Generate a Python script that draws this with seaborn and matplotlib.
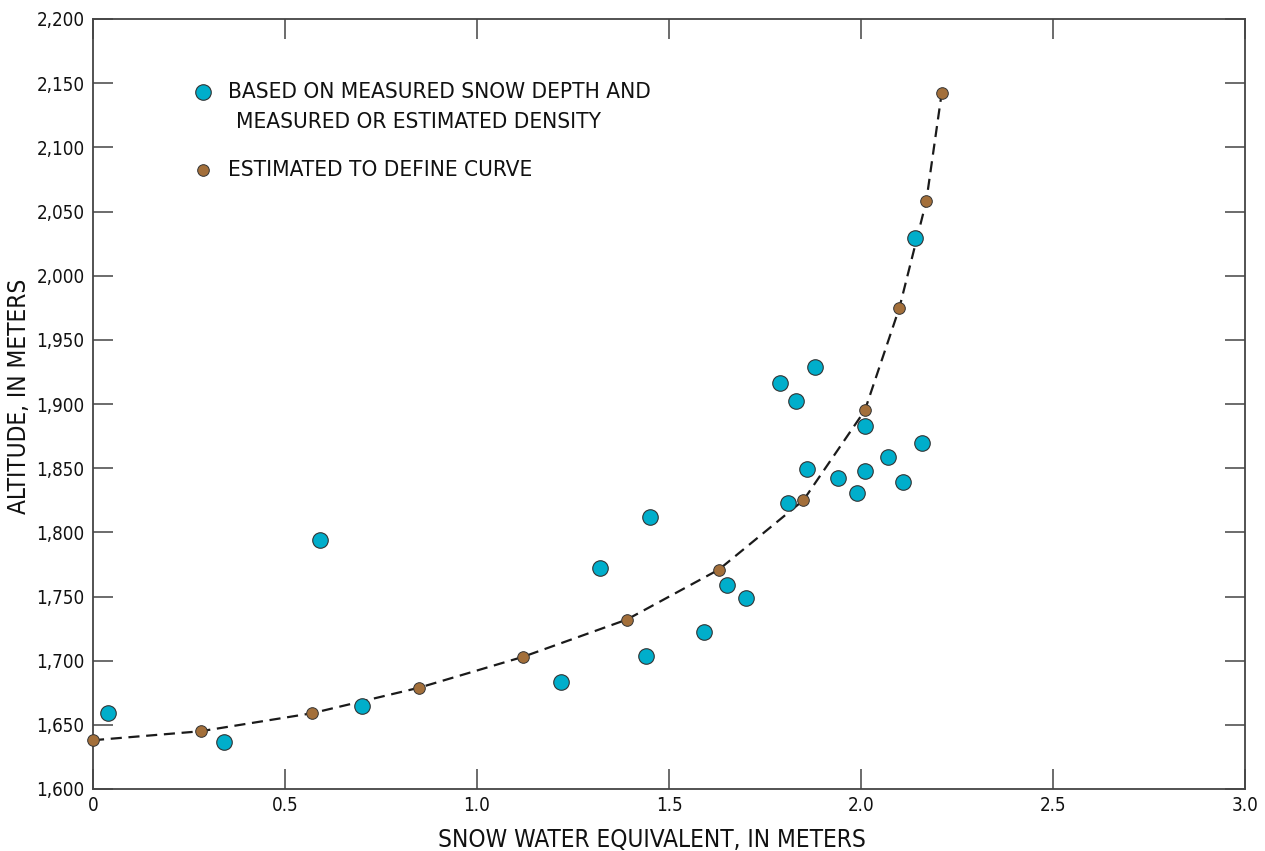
import matplotlib
matplotlib.use("Agg")
import matplotlib.pyplot as plt
import matplotlib.ticker as mticker
from matplotlib import font_manager as fm
import seaborn as sns
import pandas as pd

# ---- data ----
measured_swe = [0.04, 0.34, 0.59, 0.70, 1.22, 1.32, 1.44, 1.45, 1.59, 1.65, 1.70,
                1.79, 1.83, 1.88, 1.81, 1.86, 1.94, 1.99, 2.01, 2.01, 2.07, 2.11, 2.14, 2.16]
measured_alt = [1659, 1637, 1794, 1665, 1683, 1772, 1704, 1812, 1722, 1759, 1749,
                1916, 1902, 1929, 1823, 1849, 1842, 1831, 1883, 1848, 1859, 1839, 2029, 1870]

curve_swe = [0.0, 0.28, 0.57, 0.85, 1.12, 1.39, 1.63, 1.85, 2.01, 2.10, 2.17, 2.21]
curve_alt = [1638, 1645, 1659, 1679, 1703, 1732, 1771, 1825, 1895, 1975, 2058, 2142]

x_ticks = [0, 0.5, 1.0, 1.5, 2.0, 2.5, 3.0]
x_tick_labels = ["0", "0.5", "1.0", "1.5", "2.0", "2.5", "3.0"]
y_ticks = list(range(1600, 2201, 50))

label_measured_1 = "BASED ON MEASURED SNOW DEPTH AND"
label_measured_2 = "MEASURED OR ESTIMATED DENSITY"
label_curve = "ESTIMATED TO DEFINE CURVE"
x_label = "SNOW WATER EQUIVALENT, IN METERS"
y_label = "ALTITUDE, IN METERS"

BLUE = "#00AECB"
BROWN = "#A36F3A"
EDGE = "#333333"
AXC = "#444444"
TXT = "#111111"

sns.set_theme(style="ticks")
names = {f.name for f in fm.fontManager.ttflist}
if "Liberation Sans Narrow" in names:
    FONT = "Liberation Sans Narrow"
    STRETCH = "normal"
else:
    FONT = "DejaVu Sans"
    STRETCH = "condensed"
plt.rcParams["font.family"] = [FONT, "DejaVu Sans"]
plt.rcParams["font.stretch"] = STRETCH

df_m = pd.DataFrame({"swe": measured_swe, "alt": measured_alt})
df_c = pd.DataFrame({"swe": curve_swe, "alt": curve_alt})

fig = plt.figure(figsize=(12.65, 8.51), dpi=100)
ax = fig.add_axes([93 / 1265, 62 / 851, 1152 / 1265, 770 / 851])

sns.lineplot(data=df_c, x="swe", y="alt", ax=ax, color="#1a1a1a", lw=1.6,
             linestyle=(0, (5, 3)), sort=True, estimator=None, zorder=2)
sns.scatterplot(data=df_m, x="swe", y="alt", ax=ax, color=BLUE, s=125,
                edgecolor=EDGE, linewidth=0.8, zorder=3, clip_on=False)
sns.scatterplot(data=df_c, x="swe", y="alt", ax=ax, color=BROWN, s=70,
                edgecolor=EDGE, linewidth=0.7, zorder=4, clip_on=False)

ax.set_xlim(0, 3.0)
ax.set_ylim(1600, 2200)
ax.set_xticks(x_ticks)
ax.set_xticklabels(x_tick_labels)
ax.set_yticks(y_ticks)
ax.yaxis.set_major_formatter(mticker.FuncFormatter(lambda v, p: f"{int(v):,}"))

for s in ax.spines.values():
    s.set_visible(True)
    s.set_color(AXC)
    s.set_linewidth(1.3)

ax.tick_params(axis="both", which="major", direction="in", length=14.5, width=1.1,
               color=AXC, labelsize=13.5, labelcolor=TXT,
               top=True, right=True, labeltop=False, labelright=False)
ax.tick_params(axis="x", pad=5)
ax.tick_params(axis="y", pad=6)

ax.set_xlabel(x_label, fontsize=17.5, color=TXT)
ax.set_ylabel(y_label, fontsize=17.5, color=TXT)
ax.xaxis.set_label_coords(0.485, -0.051)
ax.yaxis.set_label_coords(-0.054, 0.51)

# legend (drawn inside the axes)
ax.scatter([0.0955], [0.905], transform=ax.transAxes, s=125, color=BLUE,
           edgecolor=EDGE, linewidth=0.8, zorder=5)
ax.scatter([0.0955], [0.804], transform=ax.transAxes, s=70, color=BROWN,
           edgecolor=EDGE, linewidth=0.7, zorder=5)
ax.text(0.117, 0.905, label_measured_1, transform=ax.transAxes, fontsize=16.2,
        va="center", ha="left", color=TXT)
ax.text(0.124, 0.866, label_measured_2, transform=ax.transAxes, fontsize=16.2,
        va="center", ha="left", color=TXT)
ax.text(0.117, 0.804, label_curve, transform=ax.transAxes, fontsize=16.2,
        va="center", ha="left", color=TXT)

fig.savefig("out.png", dpi=100)
